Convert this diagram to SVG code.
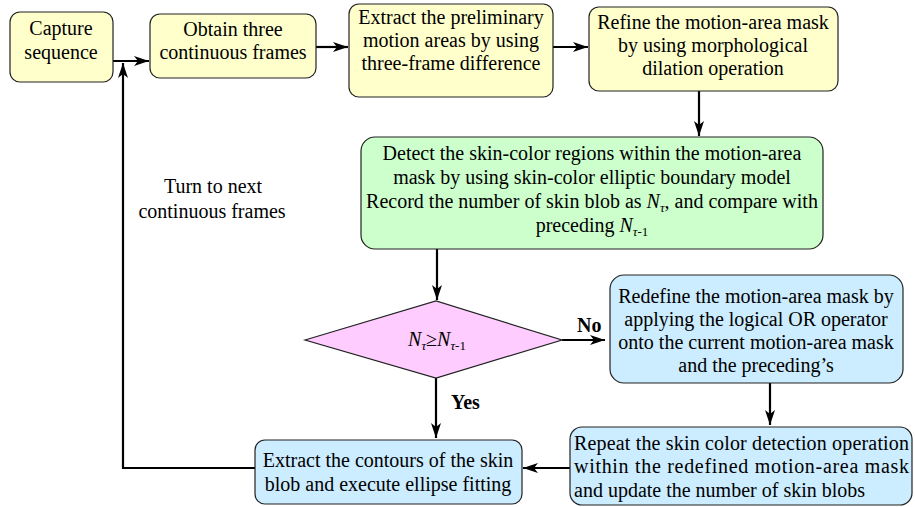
<svg xmlns="http://www.w3.org/2000/svg" width="915" height="507" viewBox="0 0 915 507">
<style>
text{font-family:"Liberation Serif","Times New Roman",serif;font-size:20px;fill:#000}
.c{text-anchor:middle}
.b{font-weight:bold}
.box{stroke:#222;stroke-width:1.2}
.y{fill:#FFFFCC}
.g{fill:#CCFFCC}
.p{fill:#FFCCFF}
.bl{fill:#CCECFF}
.ln{fill:none;stroke:#000;stroke-width:2.2}
.sub{font-size:13px}
</style>
<defs>
<marker id="ah" markerUnits="userSpaceOnUse" markerWidth="16" markerHeight="12" refX="15" refY="5" orient="auto">
<path d="M0,0 L15,5 L0,10 L4,5 Z" fill="#000"/>
</marker>
</defs>
<rect width="915" height="507" fill="#fff"/>
<g id="connectors">
<line class="ln" x1="113" y1="61" x2="149" y2="61" marker-end="url(#ah)"/>
<line class="ln" x1="316" y1="47" x2="348" y2="47" marker-end="url(#ah)"/>
<line class="ln" x1="553" y1="47" x2="588" y2="47" marker-end="url(#ah)"/>
<line class="ln" x1="699" y1="91" x2="699" y2="136" marker-end="url(#ah)"/>
<line class="ln" x1="437" y1="249" x2="437" y2="300" marker-end="url(#ah)"/>
<line class="ln" x1="562" y1="340" x2="605" y2="340" marker-end="url(#ah)"/>
<line class="ln" x1="436" y1="378" x2="436" y2="438" marker-end="url(#ah)"/>
<line class="ln" x1="770" y1="383" x2="770" y2="425" marker-end="url(#ah)"/>
<line class="ln" x1="570" y1="468" x2="523" y2="468" marker-end="url(#ah)"/>
<polyline class="ln" points="255,468 123,468 123,63" marker-end="url(#ah)"/>
<text class="c" x="213" y="193">Turn to next</text>
<text class="c" x="212" y="218">continuous frames</text>
<text class="b" x="577" y="332">No</text>
<text class="b" x="451" y="409">Yes</text>
</g>
<g id="capture">
<rect class="box y" x="10" y="12" width="103" height="70" rx="10"/>
<text class="c" x="61" y="35">Capture</text>
<text class="c" x="61" y="59">sequence</text>
</g>
<g id="obtain">
<rect class="box y" x="150" y="14" width="166" height="64" rx="10"/>
<text class="c" x="233" y="36">Obtain three</text>
<text class="c" x="233" y="59">continuous frames</text>
</g>
<g id="extract-motion">
<rect class="box y" x="349" y="4" width="204" height="93" rx="10"/>
<text class="c" x="451" y="24">Extract the preliminary</text>
<text class="c" x="451" y="47">motion areas by using</text>
<text class="c" x="451" y="70">three-frame difference</text>
</g>
<g id="refine">
<rect class="box y" x="589" y="7" width="249" height="84" rx="10"/>
<text class="c" x="713" y="29">Refine the motion-area mask</text>
<text class="c" x="713" y="52">by using morphological</text>
<text class="c" x="713" y="75">dilation operation</text>
</g>
<g id="detect">
<rect class="box g" x="361" y="137" width="462" height="112" rx="14"/>
<text class="c" x="592" y="160">Detect the skin-color regions within the motion-area</text>
<text class="c" x="592" y="184">mask by using skin-color elliptic boundary model</text>
<text class="c" x="592" y="208">Record the number of skin blob as <tspan font-style="italic">N</tspan><tspan class="sub" dy="4" font-style="italic">τ</tspan><tspan dy="-4">, and compare with</tspan></text>
<text class="c" x="592" y="232">preceding <tspan font-style="italic">N</tspan><tspan class="sub" dy="4" font-style="italic">τ</tspan><tspan class="sub" dy="0">-1</tspan></text>
</g>
<g id="decision">
<polygon class="box p" points="305,340 436,301 562,340 436,378"/>
<text class="c" x="437" y="346"><tspan font-style="italic">N</tspan><tspan class="sub" dy="4" font-style="italic">τ</tspan><tspan dy="-4">≥</tspan><tspan font-style="italic">N</tspan><tspan class="sub" dy="4" font-style="italic">τ</tspan><tspan class="sub">-1</tspan></text>
</g>
<g id="redefine">
<rect class="box bl" x="610" y="275" width="293" height="108" rx="14"/>
<text class="c" x="756" y="303">Redefine the motion-area mask by</text>
<text class="c" x="756" y="326">applying the logical OR operator</text>
<text class="c" x="756" y="349">onto the current motion-area mask</text>
<text class="c" x="756" y="372">and the preceding’s</text>
</g>
<g id="repeat">
<rect class="box bl" x="570" y="427" width="342" height="78" rx="12"/>
<text x="574" y="450" textLength="335" lengthAdjust="spacing">Repeat the skin color detection operation</text>
<text x="574" y="473" textLength="335" lengthAdjust="spacing">within the redefined motion-area mask</text>
<text x="574" y="497">and update the number of skin blobs</text>
</g>
<g id="extract-contours">
<rect class="box bl" x="255" y="440" width="267" height="64" rx="10"/>
<text class="c" x="388" y="467">Extract the contours of the skin</text>
<text class="c" x="388" y="491">blob and execute ellipse fitting</text>
</g>
</svg>
